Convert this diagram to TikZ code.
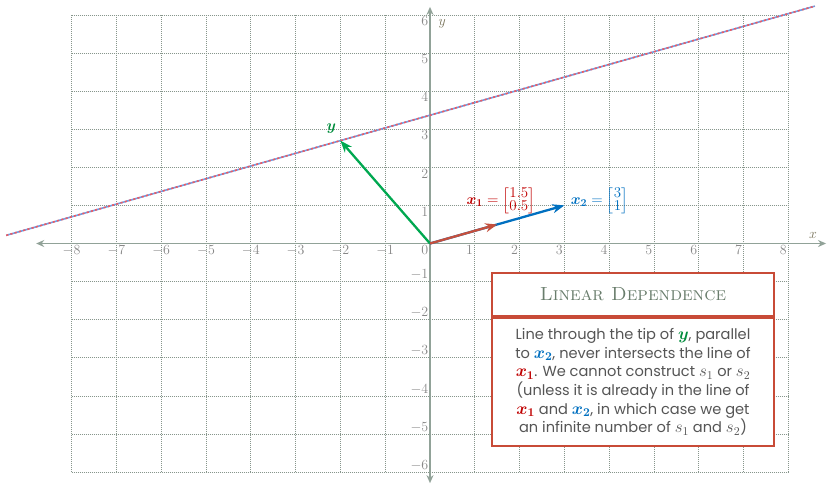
\documentclass[tikz,border=0pt]{standalone}
\usepackage{fix-cm}
\usepackage{amsmath}
\usepackage{fontspec}
\newfontfamily\bodyfont{Poppins}
\usetikzlibrary{arrows.meta}
\definecolor{gridc}{RGB}{135,150,140}
\definecolor{axisc}{RGB}{145,162,152}
\definecolor{tickc}{RGB}{135,135,135}
\definecolor{vred}{RGB}{196,80,62}
\definecolor{vblue}{RGB}{0,112,192}
\definecolor{vgreen}{RGB}{0,168,80}
\definecolor{lred}{RGB}{192,0,0}
\definecolor{lgreen}{RGB}{0,140,60}
\definecolor{boxred}{RGB}{200,75,55}
\definecolor{titlec}{RGB}{105,125,108}
\definecolor{bodyc}{RGB}{85,85,85}
\definecolor{axlab}{RGB}{120,115,90}
\definecolor{lnred}{RGB}{235,90,100}
\definecolor{lnblue}{RGB}{110,160,230}
\newcommand{\vx}[2]{{\color{#1}\boldsymbol{x}_{\boldsymbol{#2}}}}
\newcommand{\mth}[1]{{\fontsize{17}{18.7}\selectfont$#1$}}
\tikzset{
  gridline/.style={gridc, line width=0.8pt, dash pattern=on 1.2pt off 0.8pt},
  axisline/.style={axisc, line width=1.8pt, -{Stealth[length=8pt,width=7pt]}},
  vecline/.style={line width=2.3pt, -{Stealth[length=12pt,width=9pt]}},
  ticklab/.style={tickc, font=\fontsize{14}{14}\selectfont, inner sep=1.5pt},
  axislab/.style={axlab, font=\fontsize{14}{14}\selectfont},
  veclab/.style={font=\fontsize{15}{15}\selectfont, inner sep=0pt},
  boxpart/.style={draw=boxred, line width=2pt, fill=white, minimum width=282pt, inner sep=0pt}
}
\begin{document}
\begin{tikzpicture}[x=1pt,y=1pt]
\useasboundingbox (0,-485) rectangle (828,0);
\begin{scope}[shift={(430pt,-243.5pt)}, x=44.8pt, y=38.1pt]
  % grid
  \draw[gridline, step=1] (-8,-6) grid (8,6);
  % axes
  \coordinate (xl) at (-8.79,0);
  \coordinate (xr) at (8.84,0);
  \coordinate (yb) at (0,-6.29);
  \coordinate (yt) at (0,6.21);
  \draw[axisline] (0,0) -- (xl);
  \draw[axisline] (0,0) -- (xr);
  \draw[axisline] (0,0) -- (yb);
  \draw[axisline] (0,0) -- (yt);
  % tick labels
  \foreach \i in {1,...,8} {
    \node[ticklab, anchor=north east] (px\i) at (\i,0) {$\i$};
    \node[ticklab, anchor=north] (nx\i) at (-\i,0) {$-\i$};
  }
  \foreach \i in {1,...,6} {
    \node[ticklab, anchor=north east] (py\i) at (0,\i) {$\i$};
    \node[ticklab, anchor=south east] (ny\i) at (0,-\i) {$-\i$};
  }
  \node[ticklab, anchor=north east] (zero) at (0,0) {$0$};
  \node[axislab] (xlab) at (8.55,0.2) {$x$};
  \node[axislab] (ylab) at (0.27,5.76) {$y$};
  % line through tip of y parallel to x2
  \coordinate (L1) at (-9.46,0.214);
  \coordinate (L2) at (8.59,6.23);
  \draw[lnblue, line width=1.6pt] (L1) -- (L2);
  \draw[lnred, line width=1.6pt, dash pattern=on 2.2pt off 2.2pt] (L1) -- (L2);
  % vectors
  \coordinate (O) at (0,0);
  \coordinate (Y) at (-2,2.7);
  \coordinate (X1) at (1.5,0.5);
  \coordinate (X2) at (3,1);
  \draw[vecline, vgreen] (O) -- (Y);
  \draw[vecline, vblue] (O) -- (X2);
  \draw[vecline, vred] (O) -- (X1);
  % vector labels
  \node[veclab, lgreen] (ylbl) at (-2.2,3.02) {$\boldsymbol{y}$};
  \node[veclab, lred] (x1lbl) at (1.58,1.12)
    {$\vx{lred}{1}=\renewcommand{\arraystretch}{0.72}\begin{bmatrix}1.5\\0.5\end{bmatrix}$};
  \node[veclab, vblue] (x2lbl) at (3.78,1.12)
    {$\vx{vblue}{2}=\renewcommand{\arraystretch}{0.72}\begin{bmatrix}3\\1\end{bmatrix}$};
\end{scope}
% info box
\node[boxpart, anchor=north west, minimum height=43pt, text=titlec,
      font=\fontsize{19}{19}\selectfont\scshape] (title) at (491,-272) {Linear Dependence};
\node[boxpart, anchor=north, minimum height=128pt, text=bodyc, align=center,
      font=\bodyfont\fontsize{14.6}{18.7}\selectfont] (body) at (title.south) {%
Line through the tip of \mth{\color{lgreen}\boldsymbol{y}}, parallel\\
to \mth{\vx{vblue}{2}}, never intersects the line of\\
\mth{\vx{lred}{1}}. We cannot construct \mth{s_1} or \mth{s_2}\\
(unless it is already in the line of\\
\mth{\vx{lred}{1}} and \mth{\vx{vblue}{2}}, in which case we get\\
an infinite number of \mth{s_1} and \mth{s_2})};
\end{tikzpicture}
\end{document}
